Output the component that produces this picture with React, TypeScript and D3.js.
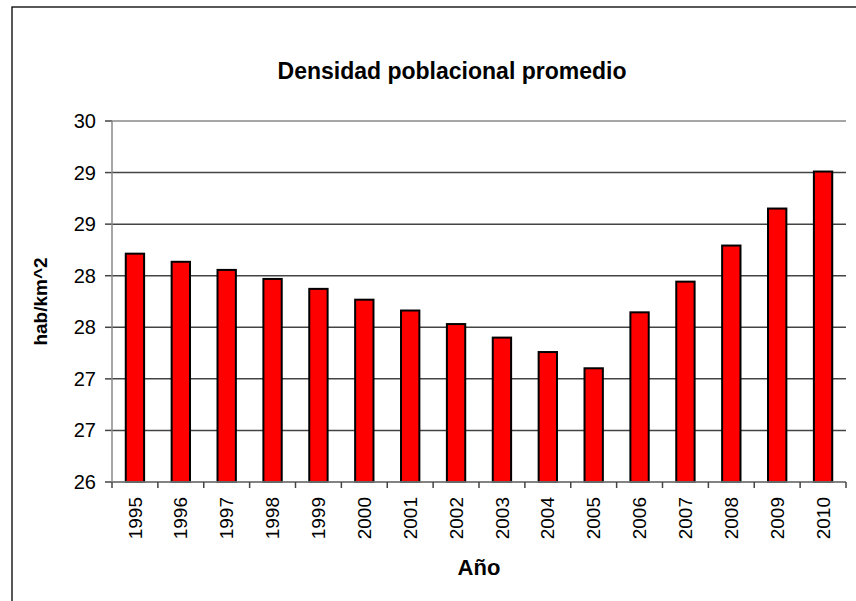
import React from "react";
import * as d3 from "d3";

const years = ["1995","1996","1997","1998","1999","2000","2001","2002","2003","2004","2005","2006","2007","2008","2009","2010"];
const density = [28.53,28.44,28.35,28.25,28.14,28.02,27.90,27.75,27.60,27.44,27.26,27.88,28.22,28.62,29.03,29.44];
const yMin = 26;
const yMax = 30;
const yTickCount = 7;
const title = "Densidad poblacional promedio";
const xTitle = "Año";
const yTitle = "hab/km^2";

export default function App() {
  const W = 856, H = 601;
  const left = 112, right = 846, top = 121, bottom = 482;
  const x = d3.scaleBand<string>().domain(years).range([left, right]).paddingInner(0.6).paddingOuter(0.3);
  const y = d3.scaleLinear().domain([yMin, yMax]).range([bottom, top]);
  const yTicks = d3.range(yTickCount + 1).map(i => yMin + (i * (yMax - yMin)) / yTickCount);
  const fmt = d3.format(".0f");
  const step = (right - left) / years.length;
  const font = "'Liberation Sans', Arial, sans-serif";

  return (
    <svg width={W} height={H} style={{ position: "absolute", left: 0, top: 0, display: "block", background: "#fff" }} fontFamily={font}>
      <rect x={12} y={7} width={1000} height={1000} fill="none" stroke="#000" strokeWidth={1.3} />
      <text x={452} y={79} textAnchor="middle" fontSize={23} fontWeight="bold">{title}</text>
      {yTicks.map((t, i) => (
        <g key={i}>
          <line x1={left} x2={right} y1={y(t)} y2={y(t)} stroke={i === yTicks.length - 1 ? "#888" : "#444"} strokeWidth={1.5} />
          <line x1={left - 7} x2={left} y1={y(t)} y2={y(t)} stroke="#444" strokeWidth={1.5} />
          <text x={96} y={y(t)} dy="0.35em" textAnchor="end" fontSize={20}>{fmt(t)}</text>
        </g>
      ))}
      {years.map((yr, i) => (
        <rect key={yr} x={x(yr)} y={y(density[i])} width={x.bandwidth()} height={bottom - y(density[i])} fill="#FF0000" stroke="#000" strokeWidth={2} />
      ))}
      <line x1={left} x2={left} y1={top} y2={bottom} stroke="#888" strokeWidth={1.5} />
      <line x1={left} x2={right} y1={bottom} y2={bottom} stroke="#888" strokeWidth={1.5} />
      {d3.range(years.length + 1).map(i => (
        <line key={i} x1={left + i * step} x2={left + i * step} y1={bottom} y2={bottom + 6} stroke="#444" strokeWidth={1.5} />
      ))}
      {years.map(yr => {
        const cx = (x(yr) as number) + x.bandwidth() / 2;
        return (
          <text key={yr} transform={`translate(${cx},${bottom + 15}) rotate(-90)`} textAnchor="end" dy="0.35em" fontSize={19}>{yr}</text>
        );
      })}
      <text x={(left + right) / 2} y={575} textAnchor="middle" fontSize={22} fontWeight="bold">{xTitle}</text>
      <text transform={`translate(40,${(top + bottom) / 2}) rotate(-90)`} textAnchor="middle" dy="0.35em" fontSize={19} fontWeight="bold">{yTitle}</text>
    </svg>
  );
}
